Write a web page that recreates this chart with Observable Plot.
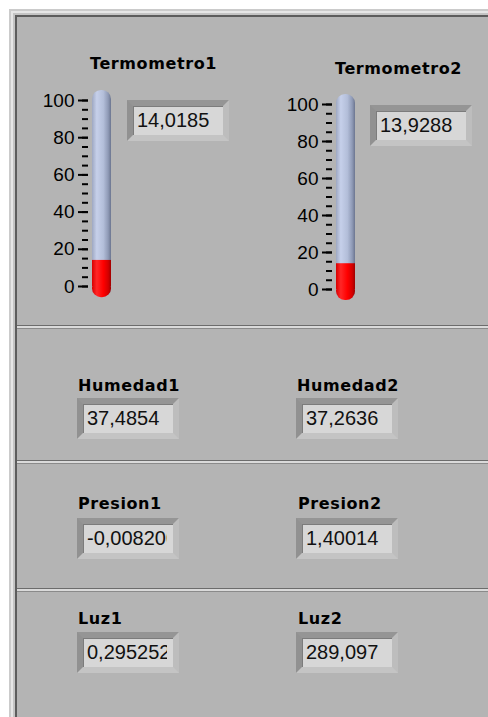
<!DOCTYPE html>
<html><head><meta charset="utf-8">
<script src="https://cdn.jsdelivr.net/npm/d3@7"></script>
<script src="https://cdn.jsdelivr.net/npm/@observablehq/plot@0.6"></script>
<style>
html,body{margin:0;padding:0;background:#fff;width:488px;height:717px;overflow:hidden;}
#panel{position:relative;width:488px;height:717px;overflow:hidden;}
.abs{position:absolute;}
.band{right:-30px;bottom:-30px;}
.divider{position:absolute;left:17px;right:0;height:4px;
  border-top:1px solid #6c6c6c;background:#dadada;border-bottom:1px solid #8a8a8a;box-sizing:border-box;}
.title{position:absolute;font-family:"DejaVu Sans",Verdana,sans-serif;font-weight:bold;font-size:16px;
  line-height:16px;letter-spacing:0.6px;color:#000;white-space:nowrap;}
.box{position:absolute;width:102px;height:41px;box-sizing:border-box;border:6px solid;
  border-color:#959595 #bdbdbd #c4c4c4 #919191;background:#d7d7d7;overflow:hidden;
  box-shadow:inset 1px 1px 0 #7c7c7c;}
.box span{display:block;margin-left:4px;width:80px;overflow:hidden;font-family:"Liberation Sans",Arial,sans-serif;font-size:20px;
  line-height:29px;color:#111;white-space:nowrap;}
</style>
</head><body>
<svg width="0" height="0" style="position:absolute">
  <defs>
    <linearGradient id="tubeG" x1="0" x2="1" y1="0" y2="0">
      <stop offset="0" stop-color="#9ea8c2"/>
      <stop offset="0.25" stop-color="#c6d0ea"/>
      <stop offset="0.6" stop-color="#b3bed9"/>
      <stop offset="0.85" stop-color="#8f9ab6"/>
      <stop offset="1" stop-color="#6c7690"/>
    </linearGradient>
    <linearGradient id="redG" x1="0" x2="1" y1="0" y2="0">
      <stop offset="0" stop-color="#d80000"/>
      <stop offset="0.25" stop-color="#ff2626"/>
      <stop offset="0.6" stop-color="#ff0000"/>
      <stop offset="0.85" stop-color="#d40000"/>
      <stop offset="1" stop-color="#a00000"/>
    </linearGradient>
  </defs>
</svg>
<div id="panel">
  <div class="abs band" style="left:9px;top:9px;background:#cbcbcb"></div>
  <div class="abs band" style="left:11px;top:11px;background:#e6e6e6"></div>
  <div class="abs band" style="left:13px;top:13px;background:#c4c4c4"></div>
  <div class="abs band" style="left:15px;top:15px;background:#5c5c5c"></div>
  <div class="abs band" style="left:17px;top:17px;background:#b4b4b4"></div>
  <div class="divider" style="top:325px"></div>
  <div class="divider" style="top:460px"></div>
  <div class="divider" style="top:588px"></div>
</div>
<script>
// ---- data ----
const thermoNames = ["Termometro1", "Termometro2"];
const thermoValues = [14.0185, 13.9288];
const majorTicks = [0, 20, 40, 60, 80, 100];
const minorTicks = [0, 5, 10, 15, 20, 25, 30, 35, 40, 45, 50, 55, 60, 65, 70, 75, 80, 85, 90, 95, 100];
const displayNames = ["Humedad1", "Humedad2", "Presion1", "Presion2", "Luz1", "Luz2"];
const displayValues = [37.4854, 37.2636, -0.0082, 1.40014, 0.295252, 289.097];

// ---- formatting (LabVIEW-style, decimal comma, 6 significant digits) ----
const es = d3.formatLocale({decimal: ",", thousands: ".", grouping: [3], currency: ["", " €"], minus: "-"});
const fmt = v => es.format(".6g")(v);

// ---- layout ----
const panel = document.getElementById("panel");
const thermoLayout = [
  {left: 20, top: 80, mb: 24, titleL: 90, titleT: 56, boxL: 127, boxT: 100},
  {left: 264, top: 84, mb: 25, titleL: 335, titleT: 61, boxL: 370, boxT: 105}
];
const displayLayout = [
  {lx: 78, ly: 378, bx: 77, by: 398},
  {lx: 297, ly: 378, bx: 296, by: 398},
  {lx: 78, ly: 496, bx: 77, by: 518},
  {lx: 298, ly: 496, bx: 296, by: 518},
  {lx: 78, ly: 611, bx: 77, by: 632},
  {lx: 298, ly: 611, bx: 296, by: 632}
];

function addTitle(text, x, y) {
  const d = document.createElement("div");
  d.className = "title";
  d.style.left = x + "px"; d.style.top = y + "px";
  d.textContent = text;
  panel.appendChild(d);
}
function addBox(text, x, y) {
  const d = document.createElement("div");
  d.className = "box";
  d.style.left = x + "px"; d.style.top = y + "px";
  const s = document.createElement("span");
  s.textContent = text;
  d.appendChild(s);
  panel.appendChild(d);
}

thermoNames.forEach((name, i) => {
  const L = thermoLayout[i];
  const data = [{k: name, v: thermoValues[i]}];
  const chart = Plot.plot({
    width: 100, height: 230,
    marginLeft: 68, marginRight: 9, marginTop: 20, marginBottom: L.mb,
    x: {type: "band", domain: [name], paddingInner: 0, paddingOuter: 0, axis: null},
    y: {domain: [0, 100], axis: null, label: null},
    style: {background: "transparent", fontFamily: "'Liberation Sans', Arial, sans-serif",
            fontSize: "19px", color: "#000", overflow: "visible"},
    marks: [
      Plot.axisY({ticks: minorTicks, tickSize: 6, tickFormat: () => "", strokeWidth: 2, label: null}),
      Plot.axisY({ticks: majorTicks, tickSize: 10, tickPadding: 4, tickFormat: d => String(d), strokeWidth: 2, label: null}),
      Plot.barY(data, {x: "k", y1: () => -6, y2: () => 105.4, insetLeft: 4, rx: 9, fill: "url(#tubeG)"}),
      Plot.barY(data, {x: "k", y1: () => -6, y2: () => 4, insetLeft: 4, rx: 9, fill: "url(#redG)"}),
      Plot.barY(data, {x: "k", y1: () => 0, y2: "v", insetLeft: 4, fill: "url(#redG)"})
    ]
  });
  chart.style.position = "absolute";
  chart.style.left = L.left + "px";
  chart.style.top = L.top + "px";
  panel.appendChild(chart);
  addTitle(name, L.titleL, L.titleT);
  addBox(fmt(thermoValues[i]), L.boxL, L.boxT);
});

displayNames.forEach((name, i) => {
  const L = displayLayout[i];
  addTitle(name, L.lx, L.ly);
  addBox(fmt(displayValues[i]), L.bx, L.by);
});
</script>
</body></html>
